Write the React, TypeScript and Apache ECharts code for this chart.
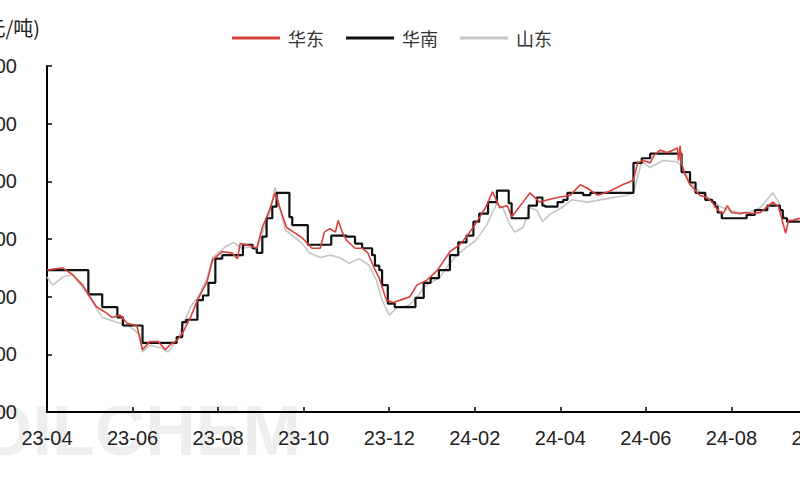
import React, { useEffect, useRef } from "react";
import * as echarts from "echarts";

const unitLabel = "(元/吨)";
const seriesNames = ["华东", "华南", "山东"];
const seriesColors = ["#d8413b", "#111111", "#c6c6c6"];
const xTickLabels = ["23-04", "23-06", "23-08", "23-10", "23-12", "24-02", "24-04", "24-06", "24-08", "24-10"];
const yMin = 6000;
const yMax = 9000;
const yStep = 500;

const eastPrices: [string, number][] = [
  ["2023-04-01", 7230], ["2023-04-12", 7250], ["2023-04-19", 7190], ["2023-04-26", 7100],
  ["2023-05-01", 7000], ["2023-05-06", 6910], ["2023-05-13", 6860], ["2023-05-17", 6820], ["2023-05-23", 6840], ["2023-05-28", 6770],
  ["2023-06-04", 6750], ["2023-06-08", 6540], ["2023-06-13", 6610], ["2023-06-19", 6610], ["2023-06-24", 6540], ["2023-06-27", 6580],
  ["2023-07-02", 6620], ["2023-07-06", 6680], ["2023-07-12", 6820], ["2023-07-17", 6970], ["2023-07-24", 7130], ["2023-07-28", 7320],
  ["2023-08-04", 7390], ["2023-08-11", 7380], ["2023-08-15", 7330], ["2023-08-17", 7460], ["2023-08-22", 7450], ["2023-08-29", 7420],
  ["2023-09-02", 7600], ["2023-09-07", 7750], ["2023-09-11", 7900], ["2023-09-14", 7780], ["2023-09-19", 7600], ["2023-09-24", 7560], ["2023-09-30", 7510],
  ["2023-10-07", 7420], ["2023-10-13", 7420], ["2023-10-16", 7560], ["2023-10-20", 7590], ["2023-10-24", 7560], ["2023-10-26", 7660], ["2023-10-29", 7560],
  ["2023-11-01", 7490], ["2023-11-07", 7420], ["2023-11-12", 7420], ["2023-11-16", 7380], ["2023-11-20", 7260], ["2023-11-24", 7160], ["2023-11-29", 6970],
  ["2023-12-04", 6950], ["2023-12-09", 6970], ["2023-12-16", 7000], ["2023-12-21", 7100], ["2023-12-28", 7140],
  ["2024-01-05", 7230], ["2024-01-14", 7390], ["2024-01-21", 7450], ["2024-01-26", 7520],
  ["2024-02-02", 7640], ["2024-02-09", 7790], ["2024-02-13", 7910], ["2024-02-18", 7770], ["2024-02-23", 7790], ["2024-02-26", 7690],
  ["2024-03-10", 7900], ["2024-03-17", 7820], ["2024-03-23", 7840], ["2024-03-30", 7860],
  ["2024-04-08", 7880], ["2024-04-15", 7970], ["2024-04-20", 7940], ["2024-04-27", 7880],
  ["2024-05-05", 7910], ["2024-05-15", 7970], ["2024-05-23", 8010], ["2024-05-26", 8160], ["2024-05-30", 8180],
  ["2024-06-04", 8160], ["2024-06-07", 8230], ["2024-06-11", 8270], ["2024-06-16", 8250], ["2024-06-20", 8270], ["2024-06-23", 8290],
  ["2024-06-24", 8180], ["2024-06-25", 8310], ["2024-06-26", 8160], ["2024-06-28", 8070],
  ["2024-07-02", 7970], ["2024-07-06", 7920], ["2024-07-09", 7880], ["2024-07-14", 7860], ["2024-07-18", 7820], ["2024-07-22", 7750], ["2024-07-26", 7720], ["2024-07-29", 7790],
  ["2024-08-01", 7730], ["2024-08-07", 7720], ["2024-08-12", 7730], ["2024-08-16", 7720], ["2024-08-22", 7730], ["2024-08-27", 7780], ["2024-08-31", 7820],
  ["2024-09-04", 7780], ["2024-09-06", 7690], ["2024-09-09", 7550], ["2024-09-11", 7660], ["2024-09-14", 7660], ["2024-09-19", 7680],
];

const southPrices: [string, number][] = [
  ["2023-04-01", 7230], ["2023-04-30", 7020], ["2023-05-10", 6910], ["2023-05-21", 6820], ["2023-05-25", 6750],
  ["2023-06-08", 6600], ["2023-07-02", 6650], ["2023-07-06", 6780], ["2023-07-09", 6800], ["2023-07-17", 6970],
  ["2023-07-21", 7010], ["2023-07-25", 7120], ["2023-07-30", 7330], ["2023-08-04", 7360], ["2023-08-19", 7450],
  ["2023-08-26", 7420], ["2023-08-29", 7380], ["2023-09-02", 7520], ["2023-09-05", 7680], ["2023-09-09", 7780],
  ["2023-09-12", 7900], ["2023-09-21", 7690], ["2023-09-23", 7620], ["2023-10-04", 7450], ["2023-10-21", 7530],
  ["2023-11-01", 7520], ["2023-11-07", 7460], ["2023-11-12", 7420], ["2023-11-19", 7360], ["2023-11-21", 7270],
  ["2023-11-24", 7230], ["2023-11-26", 7100], ["2023-11-30", 6940], ["2023-12-05", 6910], ["2023-12-20", 6990],
  ["2023-12-26", 7120], ["2023-12-31", 7160], ["2024-01-06", 7230], ["2024-01-14", 7360], ["2024-01-20", 7470],
  ["2024-01-26", 7530], ["2024-01-31", 7650], ["2024-02-04", 7720], ["2024-02-10", 7820], ["2024-02-16", 7920],
  ["2024-02-24", 7810], ["2024-02-26", 7680], ["2024-03-09", 7790], ["2024-03-15", 7860], ["2024-03-19", 7790],
  ["2024-03-21", 7780], ["2024-03-30", 7820], ["2024-04-03", 7840], ["2024-04-06", 7900], ["2024-04-17", 7880],
  ["2024-04-22", 7900], ["2024-05-23", 8160], ["2024-05-29", 8200], ["2024-06-04", 8240], ["2024-06-26", 8080],
  ["2024-07-02", 7990], ["2024-07-06", 7900], ["2024-07-13", 7840], ["2024-07-18", 7820], ["2024-07-20", 7780],
  ["2024-07-22", 7730], ["2024-07-25", 7680], ["2024-08-12", 7710], ["2024-08-18", 7750], ["2024-08-27", 7790],
  ["2024-09-05", 7750], ["2024-09-07", 7680], ["2024-09-10", 7650], ["2024-09-19", 7650],
];

const shandongPrices: [string, number][] = [
  ["2023-04-01", 7170], ["2023-04-05", 7100], ["2023-04-12", 7170], ["2023-04-19", 7190], ["2023-04-29", 7030],
  ["2023-05-03", 6950], ["2023-05-10", 6820], ["2023-05-20", 6780], ["2023-05-30", 6740], ["2023-06-06", 6670],
  ["2023-06-08", 6520], ["2023-06-13", 6580], ["2023-06-22", 6550], ["2023-06-26", 6520], ["2023-07-02", 6620],
  ["2023-07-06", 6740], ["2023-07-12", 6910], ["2023-07-19", 7030], ["2023-07-24", 7160], ["2023-07-28", 7340],
  ["2023-08-06", 7430], ["2023-08-12", 7470], ["2023-08-18", 7420], ["2023-08-24", 7430], ["2023-08-29", 7400],
  ["2023-09-02", 7550], ["2023-09-07", 7720], ["2023-09-11", 7950], ["2023-09-14", 7790], ["2023-09-18", 7580],
  ["2023-09-24", 7520], ["2023-09-30", 7460], ["2023-10-05", 7380], ["2023-10-13", 7340], ["2023-10-20", 7360],
  ["2023-10-27", 7340], ["2023-11-03", 7290], ["2023-11-10", 7330], ["2023-11-17", 7270], ["2023-11-22", 7140],
  ["2023-11-26", 6970], ["2023-12-01", 6840], ["2023-12-07", 6910], ["2023-12-11", 6910], ["2023-12-16", 6930],
  ["2023-12-22", 7010], ["2023-12-26", 7080], ["2023-12-31", 7120], ["2024-01-07", 7170], ["2024-01-12", 7260],
  ["2024-01-19", 7360], ["2024-01-26", 7430], ["2024-02-02", 7490], ["2024-02-09", 7620], ["2024-02-16", 7810],
  ["2024-02-20", 7770], ["2024-02-25", 7620], ["2024-02-28", 7560], ["2024-03-05", 7600], ["2024-03-10", 7770],
  ["2024-03-15", 7750], ["2024-03-19", 7650], ["2024-03-25", 7720], ["2024-03-30", 7750], ["2024-04-03", 7780],
  ["2024-04-09", 7840], ["2024-04-20", 7820], ["2024-05-04", 7850], ["2024-05-18", 7880], ["2024-05-23", 7900],
  ["2024-05-26", 8040], ["2024-05-29", 8170], ["2024-06-04", 8120], ["2024-06-13", 8180], ["2024-06-23", 8170],
  ["2024-06-27", 8120], ["2024-07-02", 7990], ["2024-07-09", 7910], ["2024-07-16", 7850], ["2024-07-24", 7780],
  ["2024-07-31", 7750], ["2024-08-07", 7730], ["2024-08-14", 7730], ["2024-08-22", 7770], ["2024-08-28", 7860],
  ["2024-08-31", 7900], ["2024-09-04", 7820], ["2024-09-07", 7710], ["2024-09-11", 7660], ["2024-09-19", 7680],
];

// months elapsed since 2023-04-01 (used as the x scale)
function monthsFromStart(d: string): number {
  const [y, m, dd] = d.split("-").map(Number);
  const idx = (y - 2023) * 12 + (m - 4);
  const days = new Date(y, m, 0).getDate();
  return idx + (dd - 1) / days;
}

const toSeriesData = (rows: [string, number][]) => rows.map(([d, v]) => [monthsFromStart(d), v]);

const FONT = "'Liberation Sans', 'Noto Sans CJK SC', sans-serif";
const CJK = "'Noto Sans CJK SC', sans-serif";

export default function App() {
  const ref = useRef<HTMLDivElement>(null);
  useEffect(() => {
    if (!ref.current) return;
    const chart = echarts.init(ref.current, null, { renderer: "svg" });
    chart.setOption({
      animation: false,
      backgroundColor: "#ffffff",
      grid: { left: 107, right: 43, top: 66, bottom: 88 },
      legend: {
        data: seriesNames,
        top: 24,
        left: 287,
        icon: "rect",
        itemWidth: 48,
        itemHeight: 3,
        itemGap: 22,
        textStyle: { fontSize: 18, color: "#333", fontFamily: CJK, padding: [0, 0, 0, 3] },
      },
      xAxis: {
        type: "value",
        min: 0,
        max: 18,
        interval: 2,
        axisLine: { lineStyle: { color: "#000", width: 2 } },
        axisTick: { inside: true, length: 5, lineStyle: { color: "#000", width: 1.5 } },
        axisLabel: {
          formatter: (v: number) => xTickLabels[Math.round(v / 2)] ?? "",
          fontSize: 20,
          color: "#222",
          margin: 16,
          fontFamily: FONT,
        },
        splitLine: { show: false },
      },
      yAxis: {
        type: "value",
        min: yMin,
        max: yMax,
        interval: yStep,
        axisLine: { show: true, lineStyle: { color: "#000", width: 2 } },
        axisTick: { show: true, inside: true, length: 5, lineStyle: { color: "#000", width: 1.5 } },
        axisLabel: { fontSize: 20, color: "#222", margin: 30, fontFamily: FONT },
        splitLine: { show: false },
      },
      graphic: [
        {
          type: "text",
          left: 38,
          top: 396,
          z: -10,
          silent: true,
          style: {
            text: "OILCHEM",
            fontSize: 70,
            fontWeight: "bold",
            fontFamily: FONT,
            fill: "rgba(170,170,170,0.2)",
          },
        },
        {
          type: "text",
          x: 100,
          y: 27,
          style: {
            text: unitLabel,
            align: "right",
            verticalAlign: "middle",
            fontSize: 20,
            fontFamily: CJK,
            fill: "#222",
          },
        },
      ],
      series: [
        {
          name: seriesNames[0],
          type: "line",
          data: toSeriesData(eastPrices),
          symbol: "none",
          z: 3,
          lineStyle: { color: seriesColors[0], width: 1.6 },
          itemStyle: { color: seriesColors[0] },
        },
        {
          name: seriesNames[1],
          type: "line",
          step: "end",
          data: toSeriesData(southPrices),
          symbol: "none",
          z: 2,
          lineStyle: { color: seriesColors[1], width: 2.2 },
          itemStyle: { color: seriesColors[1] },
        },
        {
          name: seriesNames[2],
          type: "line",
          data: toSeriesData(shandongPrices),
          symbol: "none",
          z: 1,
          lineStyle: { color: seriesColors[2], width: 1.6 },
          itemStyle: { color: seriesColors[2] },
        },
      ],
    });
    return () => chart.dispose();
  }, []);
  return (
    <div style={{ position: "fixed", left: 0, top: 0, width: 800, height: 500, overflow: "hidden", background: "#fff" }}>
      <div ref={ref} style={{ position: "absolute", left: -60, top: 0, width: 920, height: 500 }} />
    </div>
  );
}
